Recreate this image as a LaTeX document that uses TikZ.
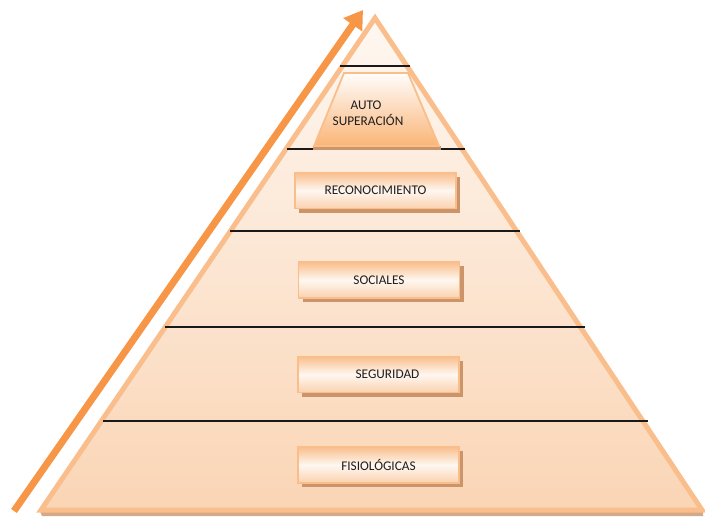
\documentclass[tikz,border=0pt]{standalone}
\usepackage{fontspec}
\setmainfont{Carlito}
\usetikzlibrary{arrows.meta,shadows}
\definecolor{edgeor}{RGB}{249,190,140}
\definecolor{arrowor}{RGB}{247,150,70}
\definecolor{topfill}{RGB}{254,247,241}
\definecolor{botfill}{RGB}{250,213,181}
\definecolor{shadowbr}{RGB}{203,148,106}
\definecolor{boxedge}{RGB}{250,190,138}
\definecolor{boxdark}{RGB}{249,190,140}
\definecolor{txt}{RGB}{30,30,30}
\tikzset{
  lvlbox/.style={draw=boxedge, line width=1.8pt, minimum width=161pt, minimum height=36pt,
    left color=boxdark, right color=boxdark!70!white, middle color=white!88!boxdark,
    shading angle=0, font=\fontsize{13.3}{15}\selectfont, text=txt,
    drop shadow={shadow xshift=4pt, shadow yshift=-4pt, fill=shadowbr, opacity=1}},
  sep/.style={line width=1.8pt, black!90},
  lbl/.style={font=\fontsize{13.3}{15}\selectfont, text=txt, inner sep=0pt}
}
\begin{document}
\begin{tikzpicture}[x=1pt,y=-1pt]
\useasboundingbox (0,0) rectangle (705,517);
% pyramid shadow band
\fill[shadowbr!80!white] (40,511) -- (703,511) -- (703,516) -- (42,516) -- cycle;
% pyramid
\path[top color=topfill, bottom color=botfill, draw=edgeor, line width=5pt, line join=miter]
  (375,18) coordinate (apex) -- (41,510) coordinate (bl) -- (702,510) coordinate (br) -- cycle;
% separators
\coordinate (s1l) at (340,66);  \coordinate (s1r) at (410,66);
\coordinate (s2l) at (287,149); \coordinate (s2r) at (465,149);
\coordinate (s3l) at (230,231); \coordinate (s3r) at (520,231);
\coordinate (s4l) at (165,327); \coordinate (s4r) at (585,327);
\coordinate (s5l) at (103,421); \coordinate (s5r) at (648,421);
\foreach \i in {1,...,5} \draw[sep] (s\i l) -- (s\i r);
% trapezoid
\fill[shadowbr] (313,146) -- (441,146) -- (441,150) -- (313,150) -- cycle;
\path[top color=white!97!boxdark, bottom color=boxdark!85!orange, draw=boxedge, line width=1.8pt]
  (344,73) -- (408,73) -- (439,146) -- (314,146) -- cycle;
\node[lbl] (auto) at (366,105) {AUTO};
\node[lbl] (super) at (368,120) {SUPERACIÓN};
% boxes
\node[lvlbox] (reco) at (375.5,190.5) {RECONOCIMIENTO};
\node[lvlbox] (soc) at (379,280) {SOCIALES};
\node[lvlbox] (seg) at (378.5,374.5) {\hspace*{18pt}SEGURIDAD};
\node[lvlbox] (fis) at (378.5,465) {FISIOLÓGICAS};
% arrow
\coordinate (a0) at (14,511);
\coordinate (a1) at (363,10);
\draw[arrowor, line width=7pt, -{Triangle[length=18pt,width=22pt]}] (a0) -- (a1);
\end{tikzpicture}
\end{document}
